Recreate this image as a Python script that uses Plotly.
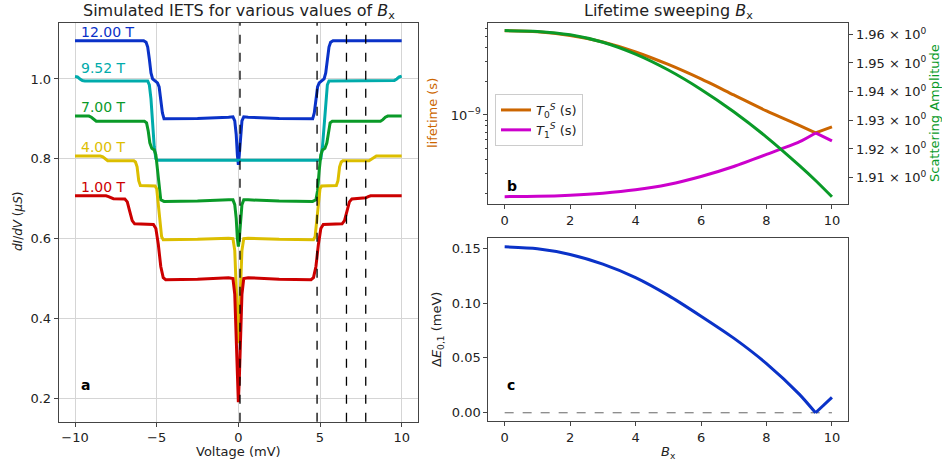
import math
import plotly.graph_objects as go

# ---------------- panel a : simulated IETS ----------------
v_12 = [-10, -5.8, -5.65, -5.55, -5.45, -5.35, -5.25, -5.1, -4.95, -4.85, -4.75, -4.65, -4.55,
        -2.5, -0.6, -0.33, -0.22, -0.13, -0.06, 0, 0.06, 0.13, 0.22, 0.33, 0.6, 2.5,
        4.55, 4.65, 4.75, 4.85, 4.95, 5.1, 5.25, 5.35, 5.45, 5.55, 5.65, 5.8, 10]
g_12 = [1.096, 1.096, 1.092, 1.080, 1.050, 1.015, 1.000, 0.995, 0.990, 0.980, 0.950, 0.915, 0.900,
        0.901, 0.904, 0.905, 0.895, 0.860, 0.810, 0.785, 0.810, 0.860, 0.895, 0.905, 0.904, 0.901,
        0.900, 0.915, 0.950, 0.980, 0.990, 0.995, 1.000, 1.015, 1.050, 1.080, 1.092, 1.096, 1.096]

v_952 = [-10, -9.85, -9.7, -9.55, -9.4, -5.55, -5.45, -5.35, -5.25, -5.15, -5.05, -4.95,
         4.95, 5.05, 5.15, 5.25, 5.35, 5.45, 5.55, 9.4, 9.55, 9.7, 9.85, 10]
g_952 = [1.006, 1.005, 1.000, 0.996, 0.995, 0.995, 0.985, 0.950, 0.890, 0.830, 0.800, 0.796,
         0.796, 0.800, 0.830, 0.890, 0.950, 0.985, 0.995, 0.995, 0.996, 1.000, 1.005, 1.007]

v_7 = [-10, -9.15, -9.0, -8.85, -8.7, -5.75, -5.62, -5.52, -5.42, -5.3, -5.15, -5.05, -4.95, -4.85,
       -4.75, -4.55, -2.5, -0.6, -0.33, -0.22, -0.13, -0.06, 0, 0.06, 0.13, 0.22, 0.33, 0.6, 2.5,
       4.55, 4.75, 4.85, 4.95, 5.05, 5.15, 5.3, 5.42, 5.52, 5.62, 5.75, 8.7, 8.85, 9.0, 9.15, 10]
g_7 = [0.907, 0.907, 0.904, 0.898, 0.894, 0.894, 0.890, 0.870, 0.840, 0.826, 0.822, 0.810, 0.770, 0.720,
       0.697, 0.693, 0.694, 0.697, 0.697, 0.685, 0.650, 0.600, 0.580, 0.600, 0.650, 0.685, 0.697, 0.697, 0.694,
       0.693, 0.697, 0.720, 0.770, 0.810, 0.822, 0.826, 0.840, 0.870, 0.890, 0.894, 0.894, 0.898, 0.904, 0.907, 0.907]

v_4 = [-10, -8.45, -8.3, -8.15, -8.0, -6.4, -6.3, -6.2, -6.1, -6.0, -5.1, -5.0, -4.9, -4.8, -4.7,
       -4.6, -2.5, -0.6, -0.33, -0.22, -0.13, -0.06, 0, 0.06, 0.13, 0.22, 0.33, 0.6, 2.5,
       4.6, 4.7, 4.8, 4.9, 5.0, 5.1, 6.0, 6.1, 6.2, 6.3, 6.4, 8.0, 8.15, 8.3, 8.45, 10]
g_4 = [0.807, 0.807, 0.805, 0.799, 0.795, 0.795, 0.792, 0.780, 0.745, 0.733, 0.732, 0.725, 0.690, 0.640, 0.605,
       0.597, 0.598, 0.601, 0.600, 0.570, 0.490, 0.400, 0.338, 0.400, 0.490, 0.570, 0.600, 0.601, 0.598,
       0.597, 0.605, 0.640, 0.690, 0.725, 0.732, 0.733, 0.745, 0.780, 0.792, 0.795, 0.795, 0.799, 0.805, 0.807, 0.807]

v_1 = [-10, -8.1, -7.95, -7.8, -7.65, -6.95, -6.8, -6.65, -6.5, -6.35, -5.2, -5.05, -4.9, -4.75, -4.6,
       -4.45, -2.5, -0.6, -0.33, -0.22, -0.13, -0.06, 0, 0.06, 0.13, 0.22, 0.33, 0.6, 2.5,
       4.45, 4.6, 4.75, 4.9, 5.05, 5.2, 6.35, 6.5, 6.65, 6.8, 6.95, 7.65, 7.8, 7.95, 8.1, 10]
g_1 = [0.707, 0.707, 0.705, 0.702, 0.700, 0.699, 0.692, 0.668, 0.645, 0.637, 0.635, 0.625, 0.585, 0.530, 0.502,
       0.497, 0.498, 0.502, 0.500, 0.460, 0.360, 0.250, 0.190, 0.250, 0.360, 0.460, 0.500, 0.502, 0.498,
       0.497, 0.502, 0.530, 0.585, 0.625, 0.635, 0.637, 0.645, 0.668, 0.692, 0.699, 0.700, 0.702, 0.705, 0.707, 0.707]

field_labels = ["12.00 T", "9.52 T", "7.00 T", "4.00 T", "1.00 T"]
field_label_y = [1.117, 1.027, 0.929, 0.830, 0.730]
field_colors = ["#0a32c8", "#00abab", "#0a9a28", "#dcbe00", "#cc0000"]
dashed_v = [0.1, 4.82, 6.62, 7.80]

# ---------------- panel b : lifetimes ----------------
bx = [0, 1, 2, 3, 4, 5, 6, 7, 8, 9, 9.5, 10]
t0 = [5.684e-9, 5.557e-9, 5.148e-9, 4.501e-9, 3.664e-9, 2.831e-9, 2.100e-9, 1.510e-9,
      1.086e-9, 8.05e-10, 6.90e-10, 7.81e-10]
t1 = [1.856e-10, 1.871e-10, 1.914e-10, 1.995e-10, 2.138e-10, 2.386e-10, 2.813e-10, 3.458e-10,
      4.428e-10, 5.731e-10, 6.90e-10, 5.850e-10]
amp = [1.96143, 1.96113, 1.95993, 1.95733, 1.95313, 1.94753, 1.94073, 1.93293,
       1.92413, 1.91433, 1.90913, 1.90353]
amp_ticks = [1.91, 1.92, 1.93, 1.94, 1.95, 1.96]
life_minor = [2e-10, 3e-10, 4e-10, 5e-10, 6e-10, 7e-10, 8e-10, 9e-10,
              2e-9, 3e-9, 4e-9, 5e-9, 6e-9]

# ---------------- panel c : gap ----------------
dE = [0.1512, 0.1495, 0.1443, 0.1355, 0.1232, 0.1070, 0.0880, 0.0680, 0.0448, 0.0170, 0.0, 0.0140]

FONT = "DejaVu Sans"
INK = "#222222"
FRAME = "#444444"
ORANGE = "#cc6600"
MAGENTA = "#cc00cc"
GREEN = "#0a9a28"
BLUE = "#0a32c8"

fig = go.Figure()

series = [(v_12, g_12), (v_952, g_952), (v_7, g_7), (v_4, g_4), (v_1, g_1)]
for (vv, gg), lab, col in zip(series, field_labels, field_colors):
    fig.add_trace(go.Scatter(x=vv, y=gg, mode="lines", line=dict(color=col, width=3),
                             name=lab, showlegend=False, xaxis="x", yaxis="y"))

split = bx.index(9.5)
# T0
fig.add_trace(go.Scatter(x=bx[:split + 1], y=t0[:split + 1], mode="lines",
                         line=dict(color=ORANGE, width=3, shape="spline", smoothing=0.7),
                         name="<i>T</i><sub>0</sub><sup><i>S</i></sup> (s)", showlegend=True,
                         xaxis="x2", yaxis="y2", legendrank=1))
fig.add_trace(go.Scatter(x=bx[split:], y=t0[split:], mode="lines",
                         line=dict(color=ORANGE, width=3), showlegend=False,
                         xaxis="x2", yaxis="y2"))
# T1
fig.add_trace(go.Scatter(x=bx[:split + 1], y=t1[:split + 1], mode="lines",
                         line=dict(color=MAGENTA, width=3, shape="spline", smoothing=0.7),
                         name="<i>T</i><sub>1</sub><sup><i>S</i></sup> (s)", showlegend=True,
                         xaxis="x2", yaxis="y2", legendrank=2))
fig.add_trace(go.Scatter(x=bx[split:], y=t1[split:], mode="lines",
                         line=dict(color=MAGENTA, width=3), showlegend=False,
                         xaxis="x2", yaxis="y2"))
# amplitude
fig.add_trace(go.Scatter(x=bx, y=amp, mode="lines",
                         line=dict(color=GREEN, width=3, shape="spline", smoothing=0.7),
                         showlegend=False, xaxis="x2", yaxis="y3"))

# panel c
fig.add_trace(go.Scatter(x=[bx[0], bx[-1]], y=[0, 0], mode="lines",
                         line=dict(color="#666666", width=1, dash="dash"),
                         showlegend=False, xaxis="x3", yaxis="y4"))
fig.add_trace(go.Scatter(x=bx[:split + 1], y=dE[:split + 1], mode="lines",
                         line=dict(color=BLUE, width=3, shape="spline", smoothing=0.7),
                         showlegend=False, xaxis="x3", yaxis="y4"))
fig.add_trace(go.Scatter(x=bx[split:], y=dE[split:], mode="lines",
                         line=dict(color=BLUE, width=3), showlegend=False,
                         xaxis="x3", yaxis="y4"))

W, H = 942, 465
def px(x):
    return x / W
def py(y):
    return 1 - y / H

axis_common = dict(showline=True, mirror=True, linecolor=FRAME, linewidth=1,
                   ticks="outside", ticklen=4, tickwidth=1, tickcolor=FRAME,
                   tickfont=dict(family=FONT, size=13, color=INK), zeroline=False)

shapes = []
for dv in dashed_v:
    shapes.append(dict(type="line", xref="x", yref="y domain", x0=dv, x1=dv, y0=0, y1=1,
                       line=dict(color="black", width=1.3, dash="dash"), layer="above"))

ann = []
for lab, ly, col in zip(field_labels, field_label_y, field_colors):
    ann.append(dict(x=-9.78, y=ly, xref="x", yref="y", text=lab, showarrow=False,
                    xanchor="left", yanchor="middle", font=dict(family=FONT, size=14, color=col)))
ann += [
    dict(x=-9.75, y=0.232, xref="x", yref="y", text="<b>a</b>", showarrow=False,
         xanchor="left", yanchor="middle", font=dict(family=FONT, size=14, color="black")),
    dict(x=0.02, y=math.log10(2.3e-10), xref="x2", yref="y2", text="<b>b</b>", showarrow=False,
         xanchor="left", yanchor="middle", font=dict(family=FONT, size=14, color="black")),
    dict(x=0.02, y=0.025, xref="x3", yref="y4", text="<b>c</b>", showarrow=False,
         xanchor="left", yanchor="middle", font=dict(family=FONT, size=14, color="black")),
    dict(x=px(239), y=py(12), xref="paper", yref="paper",
         text="Simulated IETS for various values of <i>B</i><sub>x</sub>", showarrow=False,
         xanchor="center", yanchor="middle", font=dict(family=FONT, size=16, color=INK)),
    dict(x=px(668), y=py(12), xref="paper", yref="paper",
         text="Lifetime sweeping <i>B</i><sub>x</sub>", showarrow=False,
         xanchor="center", yanchor="middle", font=dict(family=FONT, size=16, color=INK)),
    dict(x=px(238), y=py(451), xref="paper", yref="paper", text="Voltage (mV)", showarrow=False,
         xanchor="center", yanchor="middle", font=dict(family=FONT, size=13, color=INK)),
    dict(x=px(18), y=py(222), xref="paper", yref="paper",
         text="<i>dI</i>/<i>dV</i> (<i>μS</i>)", showarrow=False, textangle=-90,
         xanchor="center", yanchor="middle", font=dict(family=FONT, size=12, color=INK)),
    dict(x=px(432), y=py(113), xref="paper", yref="paper", text="lifetime (s)", showarrow=False,
         textangle=-90, xanchor="center", yanchor="middle", font=dict(family=FONT, size=13, color=ORANGE)),
    dict(x=px(934), y=py(113), xref="paper", yref="paper", text="Scattering Amplitude",
         showarrow=False, textangle=-90, xanchor="center", yanchor="middle",
         font=dict(family=FONT, size=13, color=GREEN)),
    dict(x=px(437), y=py(330), xref="paper", yref="paper",
         text="Δ<i>E</i><sub>0,1</sub> (meV)", showarrow=False, textangle=-90,
         xanchor="center", yanchor="middle", font=dict(family=FONT, size=13, color=INK)),
    dict(x=px(668), y=py(452), xref="paper", yref="paper", text="<i>B</i><sub>x</sub>",
         showarrow=False, xanchor="center", yanchor="middle", font=dict(family=FONT, size=13, color=INK)),
]

fig.update_layout(
    width=W, height=H, margin=dict(l=0, r=0, t=0, b=0),
    paper_bgcolor="white", plot_bgcolor="white",
    font=dict(family=FONT, size=13, color=INK),
    showlegend=True,
    legend=dict(x=px(495), y=py(94), xanchor="left", yanchor="top",
                bgcolor="rgba(255,255,255,0.85)", bordercolor="#cccccc", borderwidth=1,
                font=dict(family=FONT, size=13, color=INK), tracegroupgap=2,
                itemwidth=30),
    xaxis=dict(domain=[px(58.7), px(418)], range=[-11, 11], tickvals=[-10, -5, 0, 5, 10],
               showgrid=True, gridcolor="#d5d5d5", gridwidth=1, anchor="y", **axis_common),
    yaxis=dict(domain=[py(421.7), py(22.7)], range=[0.141, 1.141],
               tickvals=[0.2, 0.4, 0.6, 0.8, 1.0], tickformat=".1f",
               showgrid=True, gridcolor="#d5d5d5", gridwidth=1, anchor="x", **axis_common),
    xaxis2=dict(domain=[px(488.3), px(848.3)], range=[-0.5, 10.5], tickvals=[0, 2, 4, 6, 8, 10],
                showgrid=False, anchor="y2", **axis_common),
    yaxis2=dict(domain=[py(204.3), py(22.7)], type="log", range=[-9.80, -8.174],
                tickvals=[1e-9], ticktext=["10<sup>−9</sup>"], showgrid=False, anchor="x2",
                minor=dict(tickvals=life_minor, ticks="outside", ticklen=2, tickcolor=FRAME,
                           showgrid=False),
                **axis_common),
    yaxis3=dict(type="log", overlaying="y2", side="right", anchor="x2",
                range=[math.log10(1.90094), math.log10(1.96422)],
                tickvals=amp_ticks, ticktext=["%.2f × 10<sup>0</sup>" % t for t in amp_ticks],
                showgrid=False, **axis_common),
    xaxis3=dict(domain=[px(488.3), px(848.3)], range=[-0.5, 10.5], tickvals=[0, 2, 4, 6, 8, 10],
                showgrid=False, anchor="y4", **axis_common),
    yaxis4=dict(domain=[py(421), py(238.3)], range=[-0.0075, 0.159],
                tickvals=[0.0, 0.05, 0.10, 0.15], tickformat=".2f", showgrid=False,
                anchor="x3", **axis_common),
    shapes=shapes, annotations=ann,
)

fig.write_html("out.html")
